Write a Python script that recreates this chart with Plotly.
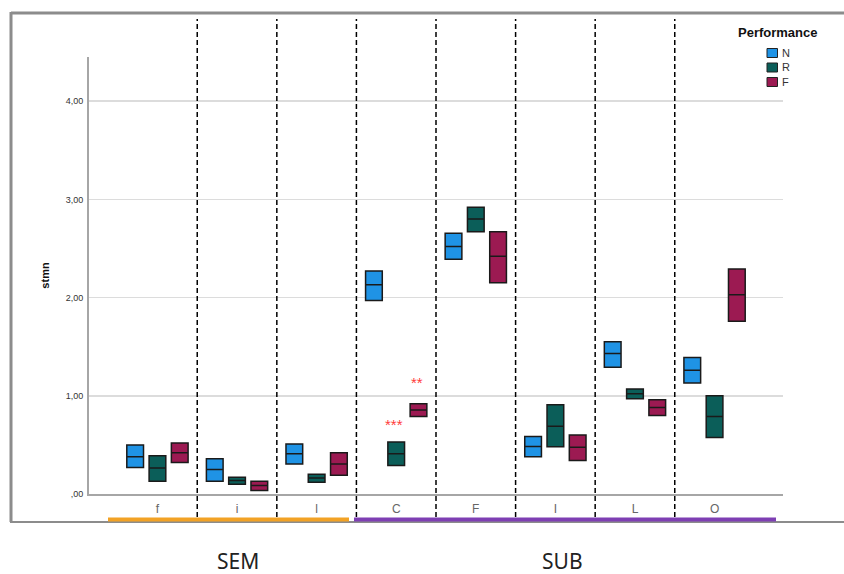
import plotly.graph_objects as go

# ---------------- data ----------------
categories = ["f", "i", "l", "C", "F", "I", "L", "O"]
group_names = ["SEM", "SUB"]
group_members = [["f", "i", "l"], ["C", "F", "I", "L", "O"]]
series = ["N", "R", "F"]

q1_N = [0.27, 0.13, 0.305, 1.97, 2.39, 0.38, 1.29, 1.13]
med_N = [0.38, 0.25, 0.41, 2.13, 2.52, 0.484, 1.43, 1.26]
q3_N = [0.50, 0.36, 0.51, 2.27, 2.655, 0.586, 1.55, 1.39]

q1_R = [0.13, 0.10, 0.12, 0.29, 2.67, 0.48, 0.97, 0.576]
med_R = [0.265, 0.137, 0.164, 0.41, 2.80, 0.69, 1.02, 0.79]
q3_R = [0.39, 0.17, 0.20, 0.53, 2.92, 0.91, 1.07, 1.00]

q1_F = [0.32, 0.035, 0.19, 0.79, 2.15, 0.34, 0.80, 1.76]
med_F = [0.42, 0.086, 0.305, 0.855, 2.42, 0.475, 0.88, 2.03]
q3_F = [0.52, 0.13, 0.42, 0.92, 2.67, 0.60, 0.96, 2.29]

y_tickvals = [0, 1, 2, 3, 4]
y_ticktext = [",00", "1,00", "2,00", "3,00", "4,00"]

# significance marks: (category, series, text, y value)
sig_cat = ["C", "C"]
sig_series = ["R", "F"]
sig_text = ["***", "**"]
sig_y = [0.71, 1.14]

# ---------------- style ----------------
colors = {"N": "#1F93E5", "R": "#0B5E59", "F": "#9C1A52"}
quart = {"N": (q1_N, med_N, q3_N), "R": (q1_R, med_R, q3_R), "F": (q1_F, med_F, q3_F)}
group_colors = ["#F2A225", "#7E3FB3"]

W, H = 844, 574
L, R, T, B = 89, 61, 57, 80
PW, PH = W - L - R, H - T - B


def px_x(x):
    return (x - L) / PW


def px_y(y):
    return (H - B - y) / PH


fig = go.Figure()
for s in series:
    q1, md, q3 = quart[s]
    fig.add_trace(go.Box(
        x=categories, q1=q1, median=md, q3=q3, lowerfence=q1, upperfence=q3,
        name=s, offsetgroup=s, fillcolor=colors[s],
        line=dict(color="#1a1a1a", width=1.5), whiskerwidth=0,
        boxpoints=False, hoverinfo="skip", showlegend=False,
    ))

shapes = []
# frame
frame_col = "#8c8c8c"
shapes.append(dict(type="line", xref="paper", yref="paper", x0=px_x(11), x1=px_x(W), y0=px_y(13), y1=px_y(13),
                   line=dict(color=frame_col, width=3)))
shapes.append(dict(type="line", xref="paper", yref="paper", x0=px_x(11), x1=px_x(11), y0=px_y(12), y1=px_y(522),
                   line=dict(color=frame_col, width=3)))
shapes.append(dict(type="line", xref="paper", yref="paper", x0=px_x(10), x1=px_x(W), y0=px_y(522), y1=px_y(522),
                   line=dict(color=frame_col, width=2)))
# dashed separators between categories
for i in range(len(categories) - 1):
    shapes.append(dict(type="line", xref="x", yref="paper", x0=i + 0.5, x1=i + 0.5,
                       y0=px_y(517), y1=px_y(19), line=dict(color="black", width=1.5, dash="5px,3px"),
                       layer="above"))
# group bars
grp_px = [(108, 349), (354, 776)]
for (a, b), c in zip(grp_px, group_colors):
    shapes.append(dict(type="line", xref="paper", yref="paper", x0=px_x(a), x1=px_x(b),
                       y0=px_y(519.5), y1=px_y(519.5), line=dict(color=c, width=4)))

annotations = []
grp_label_px = [238, 562]
for name, xp in zip(group_names, grp_label_px):
    annotations.append(dict(text=name, xref="paper", yref="paper", x=px_x(xp), y=px_y(561),
                            showarrow=False, font=dict(family="Noto Sans", size=21, color="#222"),
                            xanchor="center", yanchor="middle"))
slot_px = 22.5
for c, s, t, yv in zip(sig_cat, sig_series, sig_text, sig_y):
    annotations.append(dict(text=t, x=c, y=yv, xref="x", yref="y", showarrow=False,
                            xshift=(series.index(s) - 1) * slot_px - 2,
                            font=dict(family="Liberation Sans", size=15, color="#FF3B3B")))

# legend (drawn manually for exact spacing)
annotations.append(dict(text="<b>Performance</b>", xref="paper", yref="paper", x=px_x(777), y=px_y(33),
                        showarrow=False, xanchor="center", yanchor="middle",
                        font=dict(size=13, color="#111")))
leg_y = [53, 67.5, 82]
for s, yc in zip(series, leg_y):
    shapes.append(dict(type="rect", xref="paper", yref="paper", x0=px_x(767), x1=px_x(777.5),
                       y0=px_y(yc - 4.5), y1=px_y(yc + 4.5), fillcolor=colors[s],
                       line=dict(color="#222", width=1)))
    annotations.append(dict(text=s, xref="paper", yref="paper", x=px_x(780), y=px_y(yc),
                            showarrow=False, xanchor="left", yanchor="middle",
                            font=dict(size=11, color="#333")))

fig.update_layout(
    width=W, height=H,
    margin=dict(l=L, r=R, t=T, b=B, autoexpand=False),
    paper_bgcolor="white", plot_bgcolor="white",
    boxmode="group", boxgap=0.16, boxgroupgap=0.25,
    font=dict(family="Liberation Sans", color="#333"),
    shapes=shapes, annotations=annotations, showlegend=False,
    xaxis=dict(type="category", categoryorder="array", categoryarray=categories,
               range=[-0.86, len(categories) - 1 + 0.86],
               showgrid=False, showline=True, linecolor="#a6a6a6", linewidth=2, zeroline=False,
               ticks="", tickfont=dict(size=12, color="#666"), ticklabelstandoff=3, fixedrange=True),
    yaxis=dict(range=[0, 4.45], tickvals=y_tickvals, ticktext=y_ticktext,
               showgrid=True, gridcolor="#dcdcdc", gridwidth=1.5,
               showline=True, linecolor="#a6a6a6", linewidth=2, zeroline=False,
               ticks="", tickfont=dict(size=9, color="#333"), ticklabelstandoff=2,
               title=dict(text="<b>stmn</b>", font=dict(size=11, color="#111"), standoff=14),
               fixedrange=True),
)

fig.write_html("out.html", config={"displayModeBar": False, "staticPlot": True},
               post_script="document.body.style.margin='0';document.body.style.overflow='hidden';")
